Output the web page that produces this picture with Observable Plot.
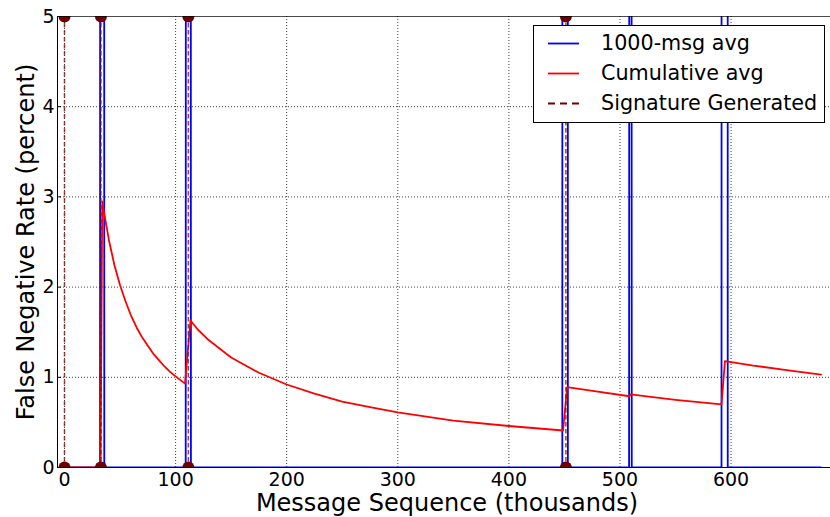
<!DOCTYPE html>
<html><head><meta charset="utf-8">
<script src="https://cdn.jsdelivr.net/npm/d3@7"></script>
<script src="https://cdn.jsdelivr.net/npm/@observablehq/plot@0.6"></script>
<style>
html,body{margin:0;padding:0;background:#fff;}
#wrap{position:relative;width:830px;height:517px;overflow:hidden;font-family:"DejaVu Sans",sans-serif;}
#wrap svg{display:block;}
#legend{position:absolute;left:533px;top:25px;width:290px;height:96px;border:1px solid #000;background:#fff;}
.row{position:absolute;left:0;height:30px;width:100%;}
.row svg{position:absolute;left:13px;top:0;}
.row span{position:absolute;left:67px;top:2px;font-size:20.7px;line-height:26px;color:#000;white-space:nowrap;}
</style></head><body><div id="wrap"></div>
<script>
// Signature generation points (thousands of messages)
const sigX = [0, 32.8, 111.5, 451.3];
// 1000-message window average (percent)
const avgX = [0, 32.0, 32.4, 35.4, 35.8, 109.1, 109.5, 113.4, 113.8, 448.1, 448.5, 452.7, 453.1, 508.2, 508.5, 510.3, 510.6, 591.4, 591.8, 596.6, 597.0, 681];
const avgY = [0, 0, 33, 33, 0, 0, 21, 21, 0, 0, 56, 56, 0, 0, 11, 11, 0, 0, 58, 58, 0, 0];
// Cumulative average (percent)
const cumX = [0, 32.4, 34, 36, 40, 45, 50, 55, 60, 65, 70, 75, 80, 85, 90, 95, 100, 108.5, 113.4, 120, 130, 150, 175, 200, 225, 250, 275, 300, 350, 400, 448.8, 452.4, 480, 508.5, 509.5, 550, 591.4, 594.5, 620, 650, 681];
const cumY = [0, 0, 2.95, 2.8, 2.52, 2.24, 2.02, 1.84, 1.68, 1.55, 1.44, 1.35, 1.26, 1.19, 1.12, 1.06, 1.01, 0.93, 1.63, 1.53, 1.41, 1.22, 1.05, 0.92, 0.82, 0.73, 0.67, 0.61, 0.52, 0.46, 0.41, 0.89, 0.84, 0.79, 0.81, 0.75, 0.70, 1.18, 1.13, 1.08, 1.03];
const xTicks = [0, 100, 200, 300, 400, 500, 600];
const yTicks = [0, 1, 2, 3, 4, 5];
const xDomain = [-6.3, 689.5];
const yDomain = [0, 5];
const xLabel = "Message Sequence (thousands)";
const yLabel = "False Negative Rate (percent)";
const legendLabels = ["1000-msg avg", "Cumulative avg", "Signature Generated"];
const blue = "#0000ff", red = "#ff0000", maroon = "#6e0000", dashCol = "#7a1515";

const avg = avgX.map((x, i) => ({x, y: avgY[i]}));
const cum = cumX.map((x, i) => ({x, y: cumY[i]}));
const markers = sigX.flatMap(x => [{x, y: yDomain[0]}, {x, y: yDomain[1]}]);
const gridStyle = {stroke: "#000", strokeOpacity: 0.75, strokeDasharray: "1,2", strokeWidth: 1};

const chart = Plot.plot({
  width: 830, height: 517,
  marginLeft: 57, marginRight: 0, marginTop: 16, marginBottom: 50,
  style: {fontFamily: "'DejaVu Sans', sans-serif", fontSize: "19px", background: "#fff", color: "#000", overflow: "hidden"},
  x: {domain: xDomain},
  y: {domain: yDomain},
  marks: [
    Plot.gridX(xTicks, gridStyle),
    Plot.gridY(yTicks.slice(1, -1), gridStyle),
    Plot.line(avg, {x: "x", y: "y", stroke: blue, strokeWidth: 1.8, clip: true}),
    Plot.line(cum, {x: "x", y: "y", stroke: red, strokeWidth: 1.8, clip: true}),
    Plot.ruleX(sigX, {stroke: dashCol, strokeWidth: 1.5, strokeDasharray: "4.5,2.5", strokeOpacity: 0.8}),
    Plot.dot(markers, {x: "x", y: "y", r: 6, fill: maroon, stroke: "none", clip: true}),
    Plot.frame({anchor: "left", stroke: "#000"}),
    Plot.frame({anchor: "top", stroke: "#000", strokeOpacity: 0.7}),
    Plot.frame({anchor: "bottom", stroke: "#000"}),
    Plot.axisY(yTicks, {tickSize: -4, tickFormat: () => "", label: null}),
    Plot.axisX(xTicks, {tickSize: 0, tickPadding: 5, fontSize: 19, label: null}),
    Plot.axisY(yTicks, {tickSize: 0, tickPadding: 3, fontSize: 19, label: null, tickFormat: d3.format("d")}),
    Plot.text([xLabel], {frameAnchor: "bottom", textAnchor: "middle", dx: 3, dy: 43, lineAnchor: "bottom", fontSize: 24}),
    Plot.text([yLabel], {frameAnchor: "left", textAnchor: "middle", rotate: -90, dx: -24, dy: 0, lineAnchor: "bottom", fontSize: 24})
  ]
});
const wrap = document.getElementById("wrap");
wrap.appendChild(chart);

const legend = document.createElement("div");
legend.id = "legend";
const dashes = ["", "", "7,5"];
const colors = [blue, red, maroon];
legendLabels.forEach((lab, i) => {
  const row = document.createElement("div");
  row.className = "row";
  row.style.top = (2 + i * 30) + "px";
  row.innerHTML = `<svg width="34" height="30"><line x1="1" x2="32" y1="15.5" y2="15.5" stroke="${colors[i]}" stroke-width="1.8" ${dashes[i] ? `stroke-dasharray="${dashes[i]}"` : ""}/></svg><span>${lab}</span>`;
  legend.appendChild(row);
});
wrap.appendChild(legend);
</script>
</body></html>
